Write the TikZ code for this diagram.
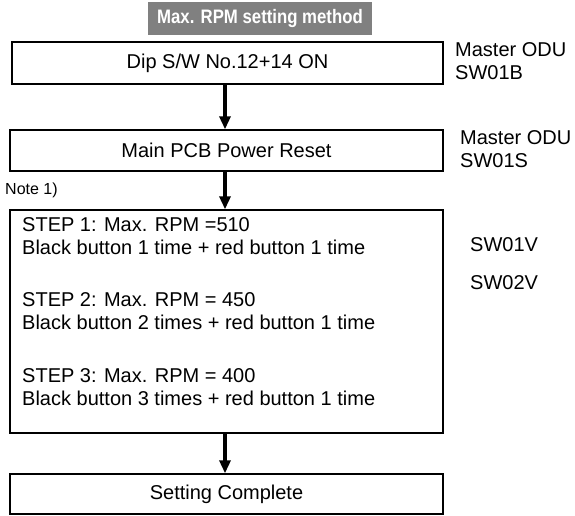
\documentclass[tikz,border=0pt]{standalone}
\usepackage{fontspec}
\setmainfont{Liberation Sans}
\newfontfamily\headfont[FakeStretch=0.86]{Liberation Sans}
\usetikzlibrary{arrows.meta,positioning}

\begin{document}
\begin{tikzpicture}[
  x=1pt, y=-1pt,
  font=\fontsize{20}{23}\selectfont,
  box/.style={draw, line width=1.4pt, minimum width=433pt, inner sep=0pt},
  title/.style={fill=black!50, text=white, font=\headfont\fontsize{19.5}{22}\selectfont\bfseries, minimum width=224pt, minimum height=33pt, inner sep=0pt},
  side/.style={anchor=west, align=left, inner sep=0pt},
  steptxt/.style={anchor=west, align=left, inner sep=0pt},
  flow/.style={-{Triangle[length=13pt,width=11pt]}, line width=3.2pt}
]
\useasboundingbox (0,0) rectangle (575,516);

\node[title] (head) at (260,18.5) {Max. RPM setting method};

\node[box, minimum height=42pt, minimum width=431pt] (dip) at (227.5,63) {Dip S/W No.12+14 ON};
\node[box, minimum height=41pt] (reset) at (226.5,150.5) {Main PCB Power Reset};
\node[box, minimum height=223pt] (steps) at (226.5,321.5) {};
\node[box, minimum height=40pt] (done) at (226.5,494) {Setting Complete};

\node[side] (odu1) at (455,61) {Master ODU\\SW01B};
\node[side] (odu2) at (460,149) {Master ODU\\SW01S};
\node[side, font=\fontsize{16}{18}\selectfont] (note) at (5,190) {Note 1)};
\node[side] (sw1) at (470,245) {SW01V};
\node[side] (sw2) at (470,283) {SW02V};

\node[steptxt] (st1) at (22,236) {STEP 1: Max. RPM =510\\Black button 1 time + red button 1 time};
\node[steptxt] (st2) at (22,311) {STEP 2: Max. RPM = 450\\Black button 2 times + red button 1 time};
\node[steptxt] (st3) at (22,387) {STEP 3: Max. RPM = 400\\Black button 3 times + red button 1 time};

\draw[flow] (dip.south -| 225,0) -- (reset.north -| 225,0);
\draw[flow] (reset.south -| 225,0) -- (steps.north -| 225,0);
\draw[flow] (steps.south -| 225,0) -- (done.north -| 225,0);
\end{tikzpicture}
\end{document}
